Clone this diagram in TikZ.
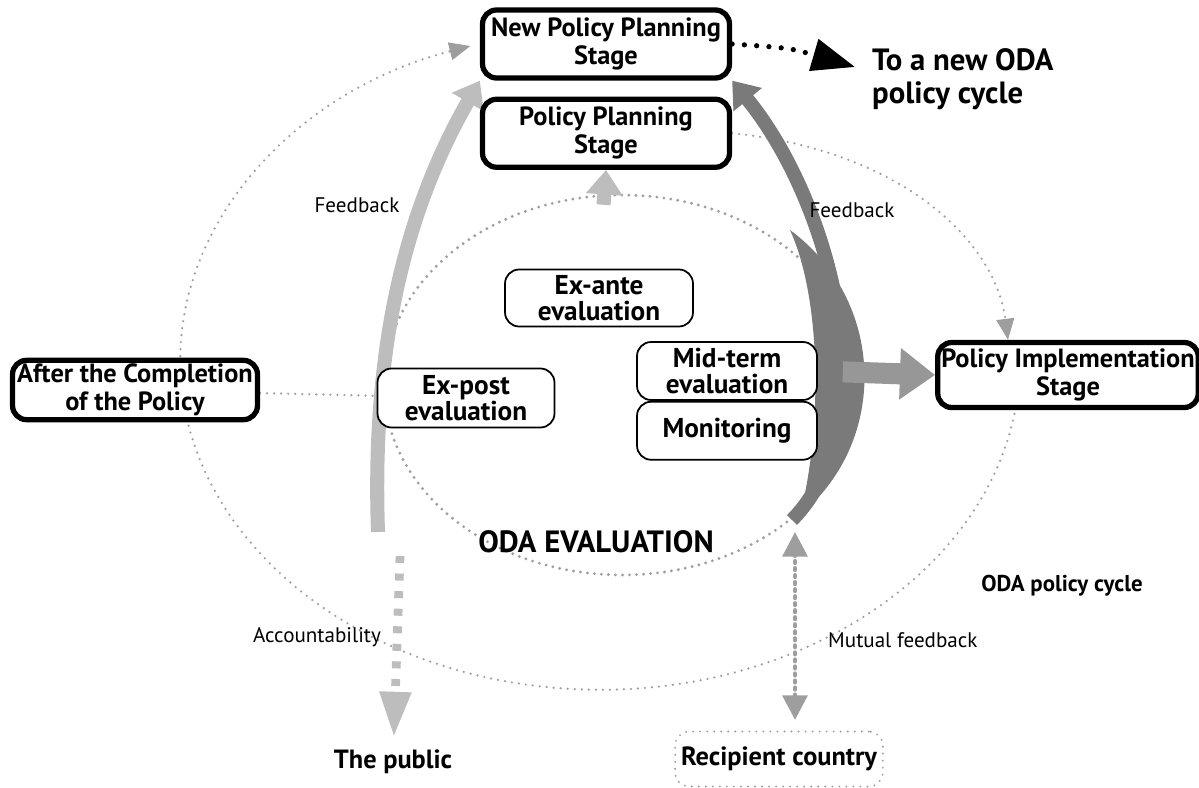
\documentclass[tikz,border=0pt]{standalone}
\usepackage{fontspec}
\setmainfont{PT Sans}
\usetikzlibrary{arrows.meta, positioning, backgrounds}
\definecolor{lightband}{gray}{0.74}
\definecolor{darkband}{gray}{0.48}
\definecolor{faintgray}{gray}{0.62}

\begin{document}
\begin{tikzpicture}[
        x=0.02cm, y=-0.02cm,
        stage/.style={rectangle, draw, line width=3pt, rounded corners=8pt, fill=white,
                      align=center, inner sep=2pt, font=\fontsize{15}{16}\selectfont\bfseries},
        evalbox/.style={rectangle, draw, line width=1pt, rounded corners=8pt, fill=white,
                        align=center, inner sep=2pt, font=\fontsize{15.5}{15}\selectfont\bfseries},
        lbl/.style={font=\fontsize{12}{13}\selectfont},
        faint/.style={faintgray, line width=1.4pt, dash pattern=on 0pt off 4pt, line cap=round},
        band/.style={line width=8pt, -{Triangle[length=14pt, width=20pt]}},
        bigarrow/.style={line width=12pt, lightband!80!black, -{Triangle[length=20pt, width=28pt]}},
        newlink/.style={line width=3pt, dash pattern=on 0pt off 7pt, line cap=round,
                        -{Triangle[length=0.86cm, width=0.64cm]}}
    ]
    \useasboundingbox (0,0) rectangle (1199,787);

    % stages of the policy cycle
    \node [stage, minimum width=4.94cm, minimum height=1.36cm] (npp) at (606,44) {New Policy Planning\\Stage};
    \node [stage, minimum width=4.94cm, minimum height=1.36cm, below=0.32cm of npp] (pp) {Policy Planning\\Stage};
    \node [stage, minimum width=5.05cm, minimum height=1.3cm] (impl) at (1068,375) {Policy Implementation\\Stage};
    \node [stage, minimum width=4.9cm, minimum height=1.12cm] (after) at (135,390) {After the Completion\\of the Policy};

    % evaluation boxes
    \node [evalbox, minimum width=3.76cm, minimum height=1.14cm] (exante) at (599,298) {Ex-ante\\evaluation};
    \node [evalbox, minimum width=3.54cm, minimum height=1.18cm] (expost) at (466,398) {Ex-post\\evaluation};
    \node [evalbox, minimum width=3.6cm, minimum height=1.16cm] (midterm) at (727,371) {Mid-term\\evaluation};
    \node [evalbox, minimum width=3.6cm, minimum height=1.16cm, below=0pt of midterm] (monitor) {Monitoring};

    \node [font=\fontsize{17.5}{18}\selectfont\bfseries] (odaeval) at (596,542) {ODA EVALUATION};
    \node [anchor=west, align=left, font=\fontsize{17.5}{19}\selectfont\bfseries] (newcycle) at (866,79) {To a new ODA\\policy cycle};
    \node [font=\fontsize{13}{15}\selectfont\bfseries] (cyclelbl) at (1062,586) {ODA policy cycle};
    \node [font=\fontsize{15}{16}\selectfont\bfseries] (public) at (393,762) {The public};
    \node [rectangle, draw=faintgray, line width=1.2pt, dash pattern=on 0pt off 4pt, line cap=round,
           rounded corners=8pt, fill=white, minimum width=3.64cm, minimum height=1.1cm,
           font=\fontsize{15}{16}\selectfont\bfseries] (recipient) at (779,759) {Recipient country};

    \node [lbl] (fbleft) at (357,205) {Feedback};
    \node [lbl] (fbright) at (852,210) {Feedback};
    \node [lbl] (acclbl) at (317,637) {Accountability};
    \node [lbl, anchor=west] (mutuallbl) at (822,640) {Mutual feedback};

    \coordinate (cyclestart) at (1017,400);
    \coordinate (evalleft) at (378,532);
    \coordinate (evalright) at (792,520);
    \coordinate (acctop) at (400,556);
    \coordinate (mutualtop) at (795,532);
    \coordinate (newtip) at (855,67);

    \begin{scope}[on background layer]
        % ODA policy cycle
        \draw [faint, -{Triangle[length=12pt, width=10pt]}] (cyclestart)
            arc [start angle=-7, end angle=-252, x radius=8.4cm, y radius=6.6cm];
        \draw [faint, -{Triangle[length=12pt, width=10pt]}] (pp.east)
            .. controls (900,150) and (995,240) .. ([xshift=-1.2cm]impl.north);
        \draw [faint] (after) -- (expost);
        % evaluation ring
        \draw [faint, line width=1.8pt] (622,385) ellipse [x radius=4.76cm, y radius=3.8cm];
        \fill [darkband] (790,230) .. controls (885,300) and (890,440) .. (800,515)
            .. controls (822,430) and (822,300) .. (790,230);
        \draw [band, lightband] (evalleft) .. controls (372,360) and (400,220) .. (npp.south west);
        \draw [band, darkband] (evalright) .. controls (890,420) and (830,200) .. (npp.south east);
        \draw [band, lightband, shorten <=1.28cm] (exante.north) -- (pp.south);
        \draw [bigarrow, shorten <=0.5cm] (midterm.east) -- (impl.west);
        % accountability and mutual feedback
        \draw [lightband, line width=5pt, dash pattern=on 4pt off 6pt,
               -{Triangle[length=0.9cm, width=0.6cm]}, shorten >=4pt] (acctop) -- (public);
        \draw [faint, line width=2.5pt, dash pattern=on 1pt off 3pt,
               {Triangle[length=14pt, width=14pt]}-{Triangle[length=14pt, width=14pt]}, shorten <=6pt]
            (recipient.north -| mutualtop) -- (mutualtop);
    \end{scope}

    \draw [newlink] (npp.east) .. controls (790,48) .. (newtip);
\end{tikzpicture}
\end{document}
